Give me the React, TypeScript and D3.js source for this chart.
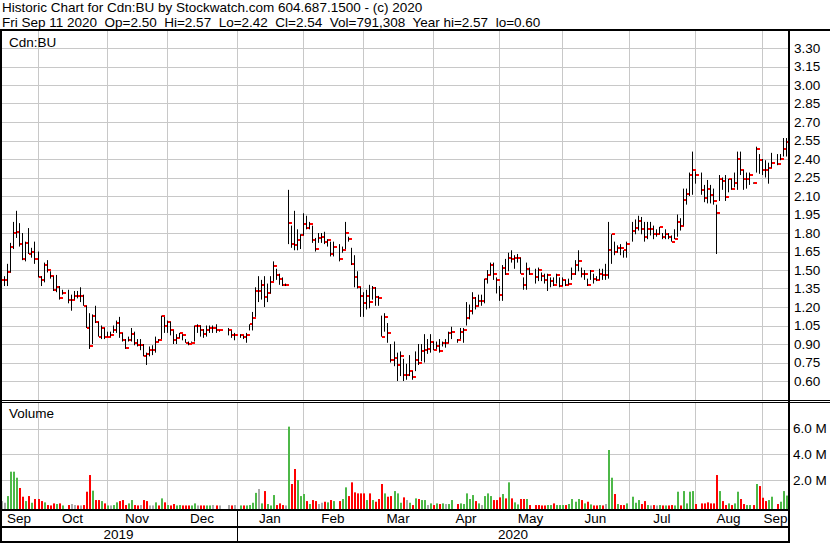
import React from 'react'
import * as d3 from 'd3'

// daily bars, Sep 13 2019 .. Sep 11 2020, one slot per weekday (null = exchange holiday)
const highs = [
  1.50, 1.45, 1.55, 1.72, 1.89, 1.98, 1.88, 1.80, 1.73, 1.84,
  1.68, 1.73, 1.65, 1.45, 1.56, 1.58, 1.49, 1.45, 1.46, 1.37,
  1.34, null, 1.34, 1.30, 1.33, 1.33, 1.36, 1.30, 1.21, 1.15,
  1.14, 1.21, 1.08, 1.05, 1.03, 1.00, 1.00, 1.05, 1.09, 1.12,
  0.99, 0.94, 0.96, 1.03, 1.00, 0.94, 0.94, 0.90, 0.83, 0.88,
  0.89, 0.96, 0.94, 1.13, 1.12, 1.09, 1.08, 1.01, 0.98, 0.99,
  0.98, 0.94, 0.92, 0.92, 1.05, 1.06, 1.05, 1.02, 1.05, 1.05,
  1.05, 1.06, 1.01, null, null, 1.03, 1.01, 0.99, null, 0.98,
  0.97, 0.99, 1.06, 1.16, 1.36, 1.45, 1.42, 1.45, 1.39, 1.45,
  1.57, 1.51, 1.47, 1.44, 1.39, 2.15, 1.86, 1.98, 1.83, 1.79,
  1.96, 1.94, 1.89, 1.86, 1.76, 1.80, 1.80, 1.81, 1.75, 1.73,
  1.73, null, 1.71, 1.69, 1.89, 1.77, 1.68, 1.62, 1.49, 1.36,
  1.32, 1.34, 1.38, 1.37, 1.36, 1.29, 1.13, 1.15, 1.07, 0.90,
  0.92, 0.83, 0.84, 0.78, 0.74, 0.81, 0.68, 0.84, 0.90, 0.90,
  0.98, 0.94, 0.98, 0.92, 0.92, 0.94, 0.92, 0.94, 1.00, 1.04,
  null, 0.94, 1.03, 1.03, 1.24, 1.22, 1.32, 1.28, 1.30, 1.30,
  1.43, 1.50, 1.56, 1.56, 1.44, 1.37, 1.54, 1.59, 1.64, 1.66,
  1.62, 1.63, 1.60, 1.44, 1.56, 1.52, null, 1.51, 1.52, 1.48,
  1.47, 1.47, 1.44, 1.44, 1.47, 1.44, 1.44, 1.42, 1.43, 1.52,
  1.58, 1.66, 1.52, 1.50, 1.43, 1.50, 1.47, 1.45, 1.51, 1.51,
  1.55, 1.89, 1.79, 1.73, 1.70, 1.71, 1.66, 1.73, null, 1.89,
  1.91, 1.94, 1.93, 1.89, 1.89, 1.89, 1.86, 1.83, 1.85, 1.80,
  1.83, 1.80, 1.78, 1.83, 1.95, 1.92, 2.16, 2.16, 2.29, 2.46,
  2.30, null, 2.29, 2.19, 2.23, 2.19, 2.16, 2.03, 2.27, 2.25,
  2.27, 2.24, 2.24, 2.29, 2.46, 2.46, 2.31, 2.29, 2.29, 2.21,
  2.50, 2.44, 2.40, 2.39, 2.37, 2.45, null, 2.44, 2.44, 2.57,
  2.57,
]

const lows = [
  1.41, 1.37, 1.37, 1.48, 1.67, 1.76, 1.69, 1.58, 1.57, 1.63,
  1.60, 1.55, 1.44, 1.37, 1.40, 1.48, 1.43, 1.33, 1.32, 1.26,
  1.30, null, 1.23, 1.17, 1.26, 1.27, 1.24, 1.21, 1.03, 0.86,
  0.90, 1.07, 0.96, 0.94, 0.94, 0.96, 0.96, 0.99, 0.99, 0.95,
  0.92, 0.86, 0.92, 0.92, 0.89, 0.88, 0.85, 0.80, 0.73, 0.80,
  0.81, 0.83, 0.92, 0.94, 0.99, 0.99, 0.97, 0.90, 0.90, 0.95,
  0.93, 0.91, 0.89, 0.91, 0.92, 0.99, 0.96, 0.95, 0.96, 0.99,
  0.99, 0.99, 1.00, null, null, 0.97, 0.95, 0.93, null, 0.95,
  0.94, 0.91, 1.01, 1.01, 1.12, 1.24, 1.26, 1.20, 1.24, 1.31,
  1.41, 1.42, 1.38, 1.37, 1.37, 1.71, 1.68, 1.66, 1.66, 1.67,
  1.78, 1.83, 1.83, 1.72, 1.65, 1.72, 1.72, 1.71, 1.69, 1.61,
  1.61, null, 1.57, 1.64, 1.67, 1.73, 1.54, 1.36, 1.35, 1.12,
  1.12, 1.18, 1.19, 1.26, 1.21, 1.21, 0.96, 1.00, 0.91, 0.75,
  0.72, 0.60, 0.64, 0.60, 0.61, 0.64, 0.61, 0.68, 0.73, 0.76,
  0.75, 0.82, 0.83, 0.85, 0.86, 0.83, 0.88, 0.87, 0.91, 0.94,
  null, 0.91, 0.94, 0.91, 1.05, 1.10, 1.14, 1.18, 1.21, 1.21,
  1.23, 1.39, 1.46, 1.42, 1.31, 1.25, 1.25, 1.46, 1.49, 1.56,
  1.51, 1.56, 1.47, 1.34, 1.34, 1.46, null, 1.39, 1.41, 1.41,
  1.39, 1.33, 1.36, 1.37, 1.39, 1.36, 1.37, 1.37, 1.38, 1.42,
  1.46, 1.49, 1.44, 1.42, 1.37, 1.42, 1.39, 1.41, 1.42, 1.42,
  1.42, 1.43, 1.55, 1.62, 1.64, 1.62, 1.60, 1.60, null, 1.73,
  1.79, 1.82, 1.79, 1.73, 1.75, 1.78, 1.75, 1.77, 1.79, 1.75,
  1.75, 1.75, 1.73, 1.75, 1.77, 1.82, 1.86, 2.03, 2.10, 2.11,
  2.20, null, 2.11, 2.05, 2.04, 2.04, 2.03, 1.63, 2.06, 2.15,
  2.06, 2.13, 2.15, 2.17, 2.15, 2.27, 2.15, 2.16, 2.19, 2.20,
  2.29, 2.28, 2.27, 2.25, 2.20, 2.33, null, 2.35, 2.39, 2.42,
  2.42,
]

const closes = [
  1.42, 1.42, 1.48, 1.69, 1.80, 1.81, 1.71, 1.59, 1.72, 1.63,
  1.65, 1.59, 1.44, 1.42, 1.54, 1.50, 1.45, 1.34, 1.36, 1.27,
  1.31, null, 1.26, 1.26, 1.29, 1.29, 1.29, 1.21, 1.03, 0.88,
  1.13, 1.08, 0.96, 1.03, 0.96, 0.96, 0.97, 1.01, 1.07, 0.99,
  0.93, 0.87, 0.93, 0.98, 0.91, 0.89, 0.89, 0.80, 0.82, 0.85,
  0.85, 0.92, 0.93, 1.13, 1.05, 1.08, 1.01, 0.93, 0.95, 0.99,
  0.97, 0.91, 0.90, 0.91, 1.05, 1.05, 1.01, 0.98, 1.01, 1.03,
  1.03, 1.01, 1.01, null, null, 1.01, 0.97, 0.97, null, 0.97,
  0.96, 0.97, 1.06, 1.11, 1.33, 1.33, 1.38, 1.28, 1.31, 1.40,
  1.53, 1.46, 1.43, 1.38, 1.38, 1.88, 1.71, 1.70, 1.74, 1.78,
  1.87, 1.84, 1.87, 1.74, 1.67, 1.76, 1.77, 1.73, 1.74, 1.63,
  1.69, null, 1.59, 1.66, 1.80, 1.75, 1.545, 1.44, 1.36, 1.29,
  1.23, 1.29, 1.24, 1.35, 1.28, 1.27, 0.96, 1.12, 0.99, 0.77,
  0.79, 0.73, 0.80, 0.65, 0.65, 0.68, 0.63, 0.77, 0.75, 0.84,
  0.85, 0.86, 0.92, 0.85, 0.88, 0.84, 0.91, 0.91, 0.99, 1.00,
  null, 0.93, 1.00, 1.01, 1.11, 1.17, 1.27, 1.21, 1.25, 1.25,
  1.43, 1.46, 1.54, 1.47, 1.42, 1.30, 1.52, 1.47, 1.60, 1.59,
  1.60, 1.60, 1.47, 1.38, 1.51, 1.47, null, 1.44, 1.50, 1.45,
  1.415, 1.46, 1.41, 1.38, 1.46, 1.37, 1.42, 1.375, 1.39, 1.47,
  1.54, 1.57, 1.47, 1.47, 1.375, 1.49, 1.43, 1.415, 1.47, 1.46,
  1.46, 1.66, 1.79, 1.65, 1.68, 1.68, 1.66, 1.71, null, 1.82,
  1.84, 1.90, 1.83, 1.77, 1.83, 1.83, 1.79, 1.79, 1.85, 1.77,
  1.79, 1.77, 1.73, 1.75, 1.89, 1.86, 2.07, 2.12, 2.27, 2.31,
  2.27, null, 2.145, 2.085, 2.16, 2.11, 2.06, 1.96, 2.24, 2.22,
  2.09, 2.235, 2.16, 2.205, 2.40, 2.31, 2.24, 2.24, 2.27, 2.205,
  2.48, 2.39, 2.31, 2.31, 2.33, 2.37, null, 2.36, 2.40, 2.48,
  2.54,
]

// volume in millions of shares
const volumes = [
  0.36, 0.23, 0.75, 2.65, 2.65, 2.18, 1.38, 0.70, 0.36, 0.75,
  0.23, 0.52, 0.52, 0.36, 0.26, 0.05, 0.02, 0.18, 0.13, 0.18,
  0.02, null, 0.05, 0.13, 0.05, 0.02, 0.02, 0.05, 1.09, 2.39,
  1.17, 0.44, 0.44, 0.36, 0.18, 0.02, 0.02, 0.05, 0.26, 0.36,
  0.44, 0.05, 0.18, 0.44, 0.05, 0.02, 0.05, 0.44, 0.36, 0.02,
  0.02, 0.26, 0.02, 0.57, 0.26, 0.05, 0.02, 0.13, 0.02, 0.05,
  0.02, 0.02, 0.02, 0.02, 0.18, 0.02, 0.02, 0.02, 0.02, 0.02,
  0.05, 0.02, 0.02, null, null, 0.05, 0.02, 0.05, null, 0.02,
  0.02, 0.02, 0.05, 0.23, 1.00, 1.30, 0.18, 1.14, 0.13, 0.02,
  0.83, 0.05, 0.18, 0.05, 0.02, 6.16, 1.69, 2.86, 2.00, 0.75,
  0.91, 0.36, 0.13, 0.44, 0.36, 0.13, 0.23, 0.31, 0.26, 0.44,
  0.36, null, 0.36, 0.52, 1.43, 0.75, 1.82, 1.04, 0.96, 0.96,
  0.96, 0.44, 0.96, 0.44, 0.31, 0.52, 1.69, 0.96, 0.70, 0.75,
  1.14, 0.96, 0.23, 0.65, 0.44, 0.23, 0.05, 0.57, 0.52, 0.44,
  0.44, 0.05, 0.18, 0.05, 0.18, 0.13, 0.18, 0.13, 0.13, 0.44,
  null, 0.13, 0.18, 0.13, 0.96, 0.52, 0.83, 0.36, 0.18, 0.05,
  0.75, 0.96, 0.75, 0.44, 0.44, 0.65, 0.91, 0.57, 1.82, 0.57,
  0.26, 0.10, 0.52, 0.52, 0.52, 0.05, null, 0.05, 0.05, 0.02,
  0.02, 0.05, 0.05, 0.18, 0.05, 0.05, 0.05, 0.05, 0.13, 0.52,
  0.31, 0.52, 0.44, 0.18, 0.31, 0.10, 0.02, 0.02, 0.05, 0.02,
  0.13, 4.34, 2.18, 0.91, 0.13, 0.05, 0.05, 0.18, null, 0.70,
  0.23, 0.44, 0.13, 0.36, 0.05, 0.02, 0.05, 0.02, 0.05, 0.02,
  0.02, 0.02, 0.05, 0.02, 1.09, 0.02, 1.14, 0.18, 1.09, 1.14,
  0.13, null, 0.18, 0.18, 0.26, 0.18, 0.18, 2.39, 1.14, 0.36,
  0.05, 0.18, 0.05, 0.18, 1.09, 0.52, 0.13, 0.05, 0.05, 0.05,
  1.69, 1.53, 0.62, 0.36, 0.44, 0.70, null, 0.13, 0.31, 1.14,
  0.79,
]

// g = up day, r = down day, n = unchanged, - = no trading
const volumeDirs =
  'nnggggrrgr' + 'grrrgrrrgr' + 'g-rnnrnrrr' + 'grrgrgnggr' + 'rrggrrnrrn' +
  'ngrgrgrrgg' + 'rrrggnrrgg' + 'nrn--nrn-g' + 'rggggngrgg' + 'grrrngrrgg' +
  'grgrrnnrgr' + 'g-rggrrrrr' + 'rgrgrrrgrr' + 'gggrngrgrg' + 'gngrgrgngg' +
  '-rgggggrgn' + 'gggrrrgrgr' + 'ggrrgr-rrr' + 'rggrgggrgg' + 'ggrgrgrrgr' +
  'nggrgrrg-g' + 'ggrrgnrngr' + 'grrggrgggg' + 'r-rrrrrrgr' + 'rgrggrrggr' +
  'grrrgg-rgg' + 'g'

const priceTicks = ['3.30', '3.15', '3.00', '2.85', '2.70', '2.55', '2.40', '2.25', '2.10', '1.95',
  '1.80', '1.65', '1.50', '1.35', '1.20', '1.05', '0.90', '0.75', '0.60']
const volumeTicks = [2, 4, 6]
const volumeTickLabels = ['2.0 M', '4.0 M', '6.0 M']
const monthLabels = ['Sep', 'Oct', 'Nov', 'Dec', 'Jan', 'Feb', 'Mar', 'Apr', 'May', 'Jun', 'Jul', 'Aug', 'Sep']
const yearLabels = ['2019', '2020']

const titleLine = 'Historic Chart for Cdn:BU by Stockwatch.com 604.687.1500 - (c) 2020'
const infoLine = 'Fri Sep 11 2020  Op=2.50  Hi=2.57  Lo=2.42  Cl=2.54  Vol=791,308  Year hi=2.57  lo=0.60'

const volColors: Record<string, string> = { g: '#4db848', r: '#ff0000', n: '#a8a8a8' }

// weekday calendar
const tradingDays: Date[] = []
for (let d = new Date(2019, 8, 13); d <= new Date(2020, 8, 11); d = d3.timeDay.offset(d, 1)) {
  if (d.getDay() !== 0 && d.getDay() !== 6) tradingDays.push(d)
}

const W = 830
const H = 543
const AXIS_X = 789
const FONT = '"Liberation Sans", Arial, sans-serif'

const x = d3.scaleLinear().domain([0, tradingDays.length - 1]).range([1.8, 786.2])
const y = d3.scaleLinear().domain([0.6, 3.3]).range([381, 48])
const yv = d3.scaleLinear().domain([0, 6]).range([505.7, 428.7])
const col = (i: number) => Math.floor(x(i))

// month gridlines sit on the last weekday on or before the 1st
const monthStarts = d3.timeMonths(new Date(2019, 9, 1), new Date(2020, 8, 2))
const bisectDay = d3.bisector((d: Date) => d.getTime()).right
const monthX = monthStarts.map(m => col(bisectDay(tradingDays, m.getTime()) - 1))
const monthEdges = [0, ...monthX, AXIS_X]
const janX = monthX[3]
const yearEdges = [0, janX, AXIS_X]

const App = () => {
  document.body.style.margin = '0'
  const gridColor = '#c8c8c8'
  return (
    <svg width={W} height={H} style={{ display: 'block', position: 'absolute', left: 0, top: 0 }}
      fontFamily={FONT} fontSize={13.5}>
      <rect width={W} height={H} fill="#fff" />

      {/* price grid */}
      {priceTicks.map(t => (
        <line key={t} x1={2} x2={AXIS_X} y1={Math.round(y(+t)) + 0.5} y2={Math.round(y(+t)) + 0.5}
          stroke={gridColor} />
      ))}
      {volumeTicks.map(t => (
        <line key={t} x1={2} x2={AXIS_X} y1={Math.round(yv(t)) + 0.5} y2={Math.round(yv(t)) + 0.5}
          stroke={gridColor} />
      ))}
      {monthX.map((mx, k) => (
        <g key={k}>
          <line x1={mx + 0.5} x2={mx + 0.5} y1={31} y2={400} stroke={gridColor} />
          <line x1={mx + 0.5} x2={mx + 0.5} y1={403} y2={509} stroke={gridColor} />
        </g>
      ))}

      {/* volume */}
      {volumes.map((v, i) => v == null ? null : (
        <rect key={i} x={col(i)} y={yv(v)} width={2} height={509 - yv(v)} fill={volColors[volumeDirs[i]]} />
      ))}

      {/* price bars: high-low line, close tick */}
      {closes.map((c, i) => {
        if (c == null) return null
        const yh = y(highs[i] as number)
        const yl = y(lows[i] as number)
        return (
          <g key={i}>
            <rect x={col(i)} y={yh} width={1} height={Math.max(1, yl - yh)} fill="#000" />
            <rect x={col(i) + 1} y={Math.round(y(c)) - 1} width={3} height={2} fill="#ff0000" />
          </g>
        )
      })}

      {/* frame */}
      <rect x={0} y={29} width={W} height={2} fill="#000" />
      <rect x={0} y={29} width={2} height={H - 29} fill="#000" />
      <rect x={AXIS_X - 1} y={29} width={2} height={H - 29} fill="#000" />
      <rect x={0} y={400} width={W} height={1} fill="#000" />
      <rect x={0} y={402} width={W} height={1} fill="#000" />
      <rect x={0} y={509} width={AXIS_X} height={2} fill="#000" />
      <rect x={0} y={526} width={AXIS_X} height={2} fill="#000" />
      <rect x={0} y={541} width={AXIS_X} height={2} fill="#000" />
      <rect x={janX} y={511} width={1} height={30} fill="#000" />

      {/* texts */}
      <text x={2} y={12} style={{ whiteSpace: 'pre' }}>{titleLine}</text>
      <text x={2} y={26.5} style={{ whiteSpace: 'pre' }}>{infoLine}</text>
      <text x={9} y={46.5}>Cdn:BU</text>
      <text x={9} y={418}>Volume</text>

      {priceTicks.map(t => (
        <text key={t} x={794} y={y(+t) + 4.7}>{t}</text>
      ))}
      {volumeTicks.map((t, k) => (
        <text key={t} x={793} y={yv(t) + 4.7}>{volumeTickLabels[k]}</text>
      ))}
      {monthLabels.map((m, k) => (
        <text key={k} x={(monthEdges[k] + monthEdges[k + 1]) / 2} y={523} textAnchor="middle">{m}</text>
      ))}
      {yearLabels.map((yr, k) => (
        <text key={yr} x={(yearEdges[k] + yearEdges[k + 1]) / 2} y={539} textAnchor="middle">{yr}</text>
      ))}
    </svg>
  )
}

export default App
